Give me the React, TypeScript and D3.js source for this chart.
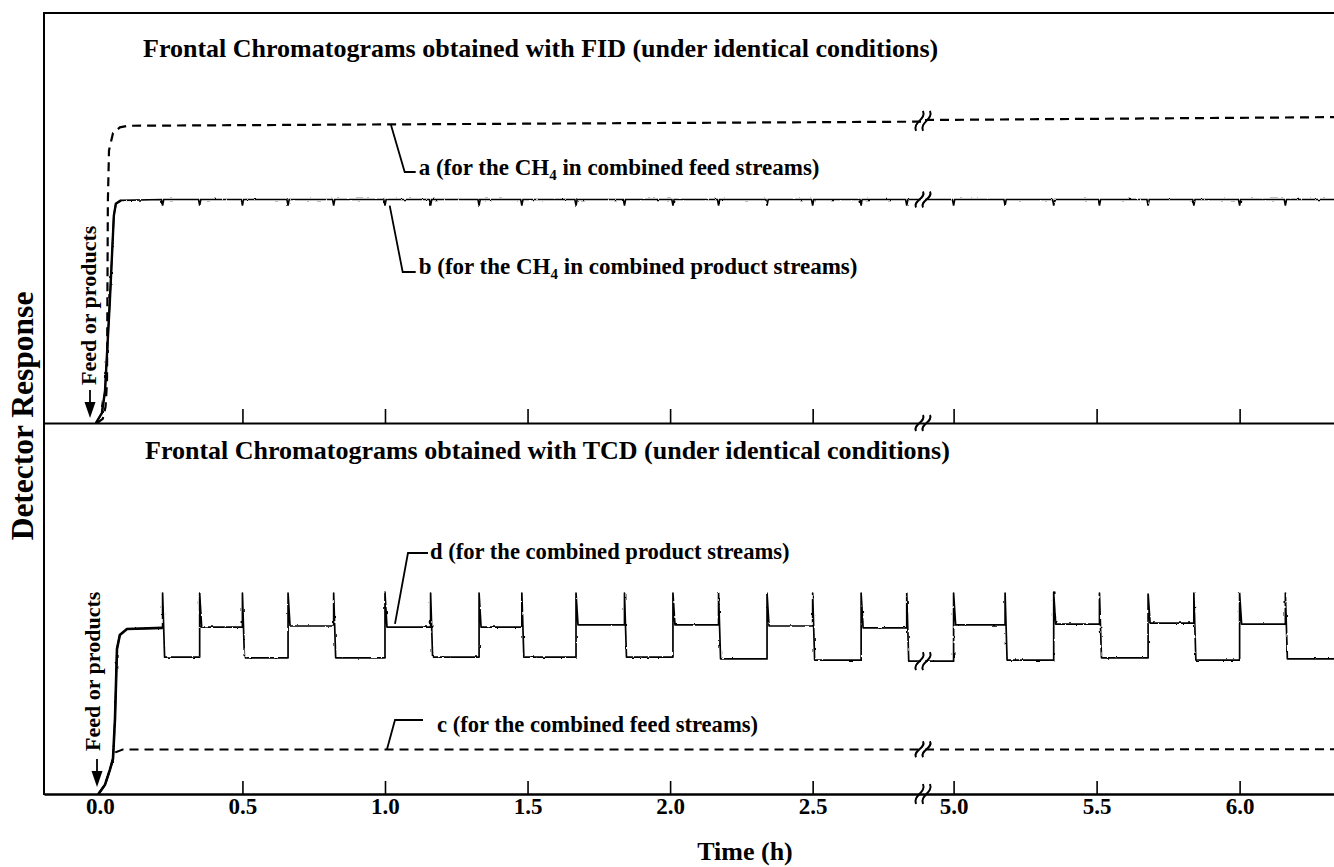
import * as d3 from 'd3';
import { useEffect, useRef } from 'react';

type P = [number, number];

const W = 1334;
const H = 867;
const FONT = '"Liberation Serif", "Times New Roman", serif';

// time axis (h), broken between 2.88 and 4.9
const labelTimes = [0, 0.5, 1.0, 1.5, 2.0, 2.5, 5.0, 5.5, 6.0];
const tickLabels = ['0.0', '0.5', '1.0', '1.5', '2.0', '2.5', '5.0', '5.5', '6.0'];
const tickTimes = [0.5, 1.0, 1.5, 2.0, 2.5, 5.0, 5.5, 6.0];
const breakTimes = [2.88, 4.9];
const endTime = 6.33;

// valve switching times (h) -> small dips in b, steps in d
const switchTimes = [0.22, 0.35, 0.50, 0.66, 0.82, 1.00, 1.16, 1.33, 1.48, 1.67, 1.84, 2.01, 2.17, 2.34, 2.50, 2.67, 2.83, 5.00, 5.18, 5.35, 5.51, 5.68, 5.84, 6.00, 6.16];

// FID panel (response, arbitrary units 0-100)
const aRise: P[] = [[-0.01, 0], [0.01, 1], [0.02, 4], [0.025, 10], [0.028, 54], [0.032, 66.5], [0.046, 70.7], [0.07, 72.1], [0.098, 72.5]];
const aPlateau: P[] = [[2.88, 73.5], [4.9, 73.9], [6.33, 74.6]];
const bRise: P[] = [[-0.014, 0], [0.007, 2.4], [0.018, 7.8], [0.035, 29.8], [0.049, 50.6], [0.056, 53.5], [0.074, 54.3]];
const bLevel = 54.5;
const bDip = 53.0;

// TCD panel
const dRise: P[] = [[-0.005, 0], [0.018, 2.5], [0.035, 6.5], [0.046, 9.5], [0.053, 20.3], [0.06, 39.2], [0.07, 43.0], [0.095, 44.6]];
const dStart = 44.9;
const dLevels = [37.0, 45.1, 36.8, 45.4, 36.8, 45.1, 37.0, 45.1, 37.0, 45.7, 37.0, 45.7, 36.5, 45.4, 36.2, 44.9, 35.9, 45.7, 36.2, 45.9, 36.8, 46.2, 36.2, 45.9, 36.5];
const dSpike = 54.3;
const cRise: P[] = [[-0.005, 0], [0.018, 2.5], [0.035, 6.5], [0.046, 9.5], [0.055, 11.3], [0.08, 12.0]];
const cLevel = 12.1;

// cut a trace at the axis break
function withBreak(points: P[]): (P | null)[] {
  const out: (P | null)[] = [];
  points.forEach((p, i) => {
    const prev = points[i - 1];
    if (prev && prev[0] <= breakTimes[0] && p[0] >= breakTimes[1]) {
      if (prev[0] < breakTimes[0]) out.push([breakTimes[0], prev[1]]);
      out.push(null);
      if (p[0] > breakTimes[1]) out.push([breakTimes[1], prev[1]]);
    }
    out.push(p);
  });
  return out;
}

function App() {
  const ref = useRef<SVGSVGElement>(null);

  useEffect(() => {
    const svg = d3.select(ref.current);
    svg.selectAll('*').remove();

    const x = d3.scaleLinear().domain([-0.196, breakTimes[0], breakTimes[1], endTime]).range([44, 921, 925, 1334]);
    const yTop = d3.scaleLinear().domain([0, 100]).range([423, 13]);
    const yBot = d3.scaleLinear().domain([0, 100]).range([794, 424]);
    const xBreak = (x(breakTimes[0]) + x(breakTimes[1])) / 2;

    // slight recorder-pen noise on the solid traces
    const filt = svg.append('defs').append('filter').attr('id', 'wiggle')
      .attr('filterUnits', 'userSpaceOnUse').attr('x', 0).attr('y', 0).attr('width', W).attr('height', H);
    filt.append('feTurbulence').attr('type', 'fractalNoise').attr('baseFrequency', '0.28 0.2')
      .attr('numOctaves', 1).attr('seed', 4).attr('result', 'noise');
    filt.append('feDisplacementMap').attr('in', 'SourceGraphic').attr('in2', 'noise')
      .attr('scale', 2.6).attr('xChannelSelector', 'R').attr('yChannelSelector', 'G');

    // frame
    svg.append('line').attr('x1', 44).attr('x2', W).attr('y1', 13).attr('y2', 13).attr('stroke', '#000').attr('stroke-width', 2);
    svg.append('line').attr('x1', 44).attr('x2', 44).attr('y1', 12).attr('y2', 795).attr('stroke', '#000').attr('stroke-width', 2);

    // axes
    const topAxis = svg.append('g').attr('transform', `translate(0,${yTop(0)})`)
      .call(d3.axisBottom(x).tickValues(tickTimes).tickSizeInner(-14).tickSizeOuter(0).tickFormat(() => ''));
    topAxis.select('.domain').attr('stroke-width', 2.2);
    topAxis.selectAll('.tick line').attr('stroke-width', 1.6);

    const botAxis = svg.append('g').attr('transform', `translate(0,${yBot(0)})`)
      .call(d3.axisBottom(x).tickValues(labelTimes).tickSizeInner(-13).tickSizeOuter(0).tickPadding(4)
        .tickFormat((_d, i) => tickLabels[i]));
    botAxis.select('.domain').attr('stroke-width', 2.6);
    botAxis.selectAll('.tick line').attr('stroke-width', 1.6);
    botAxis.selectAll('.tick').filter((d: any) => d === 0).select('line').remove();
    botAxis.selectAll('text').attr('font-family', FONT).attr('font-weight', 'bold').attr('font-size', 23).attr('fill', '#000');

    const line = (y: d3.ScaleLinear<number, number>) => d3.line<P | null>()
      .defined((d) => d !== null)
      .x((d) => x((d as P)[0]))
      .y((d) => y((d as P)[1]));

    // curve a (dashed)
    svg.append('path').attr('d', line(yTop)(withBreak([...aRise, ...aPlateau])))
      .attr('fill', 'none').attr('stroke', '#000').attr('stroke-width', 2.2).attr('stroke-dasharray', '9,6');

    // curve b with dips at each switch
    const bPts: P[] = [...bRise];
    switchTimes.forEach((t) => { bPts.push([t - 0.004, bLevel], [t, bDip], [t + 0.004, bLevel]); });
    bPts.push([endTime, bLevel]);
    svg.append('path').attr('d', line(yTop)(withBreak(bPts))).attr('filter', 'url(#wiggle)')
      .attr('fill', 'none').attr('stroke', '#000').attr('stroke-width', 1.6);
    svg.append('path').attr('d', line(yTop)(bRise))
      .attr('fill', 'none').attr('stroke', '#000').attr('stroke-width', 2.4);

    // curve c (dashed)
    svg.append('path').attr('d', line(yBot)(withBreak([...cRise, [endTime, cLevel]])))
      .attr('fill', 'none').attr('stroke', '#000').attr('stroke-width', 2).attr('stroke-dasharray', '9,6');

    // curve d, square wave with a spike at every switch
    const dPts: P[] = [...dRise];
    let level = dStart;
    switchTimes.forEach((t, i) => {
      dPts.push([t, level], [t, dSpike], [t + 0.007, dLevels[i]]);
      level = dLevels[i];
    });
    dPts.push([endTime, level]);
    svg.append('path').attr('d', line(yBot)(withBreak(dPts))).attr('filter', 'url(#wiggle)')
      .attr('fill', 'none').attr('stroke', '#000').attr('stroke-width', 1.7).attr('stroke-linejoin', 'round');
    svg.append('path').attr('d', line(yBot)([...dRise, [switchTimes[0], dStart]]))
      .attr('fill', 'none').attr('stroke', '#000').attr('stroke-width', 2.6);

    // break marks
    const breakMark = (cy: number, h: number) => {
      [-3.5, 3.5].forEach((o) => {
        const cx = xBreak + o;
        svg.append('path')
          .attr('d', `M${cx - 3.5},${cy + h} C${cx - 7},${cy + 1} ${cx + 7},${cy - 1} ${cx + 3.5},${cy - h}`)
          .attr('fill', 'none').attr('stroke', '#000').attr('stroke-width', 2);
      });
    };
    breakMark(yTop(73.7), 10);
    breakMark(yTop(bLevel), 8);
    breakMark(yTop(0), 8);
    breakMark(yBot(35.9), 9);
    breakMark(yBot(cLevel), 8);
    breakMark(yBot(0), 10);

    const txt = (xx: number, yy: number, size: number) => svg.append('text')
      .attr('x', xx).attr('y', yy).attr('font-family', FONT).attr('font-weight', 'bold')
      .attr('font-size', size).attr('fill', '#000');

    // titles
    txt(143, 57, 26).text('Frontal Chromatograms obtained with FID (under identical conditions)');
    txt(145, 459, 26).text('Frontal Chromatograms obtained with TCD (under identical conditions)');

    // curve labels with leaders
    const leader = (pts: P[]) => svg.append('path').attr('d', d3.line()(pts))
      .attr('fill', 'none').attr('stroke', '#000').attr('stroke-width', 1.8);
    const ax = x(1.02);
    leader([[ax, yTop(72.9)], [ax + 14, 172], [ax + 25, 172]]);
    const la = txt(ax + 28, 175, 23);
    la.append('tspan').text('a (for the CH');
    la.append('tspan').attr('font-size', 15).attr('dy', 5).text('4');
    la.append('tspan').attr('dy', -5).text(' in combined feed streams)');

    leader([[ax - 1, yTop(bDip)], [ax + 12, 272], [ax + 25, 272]]);
    const lb = txt(ax + 28, 274, 23);
    lb.append('tspan').text('b (for the CH');
    lb.append('tspan').attr('font-size', 15).attr('dy', 5).text('4');
    lb.append('tspan').attr('dy', -5).text(' in combined product streams)');

    const dx = x(1.035);
    leader([[dx, yBot(46)], [dx + 13, 553], [dx + 33, 553]]);
    txt(dx + 35, 559, 22.6).text('d (for the combined product streams)');

    const cx0 = x(1.007);
    leader([[cx0, yBot(cLevel)], [cx0 + 8, 720], [cx0 + 36, 720]]);
    txt(cx0 + 50, 732, 22.6).text('c (for the combined feed streams)');

    // "Feed or products" markers with arrows
    const feed = (tx: number, ty: number, arrowX: number, arrowTop: number) => {
      svg.append('text').attr('transform', `translate(${tx},${ty}) rotate(-90)`)
        .attr('font-family', FONT).attr('font-weight', 'bold').attr('font-size', 22).text('Feed or products');
      svg.append('line').attr('x1', arrowX).attr('x2', arrowX).attr('y1', arrowTop).attr('y2', arrowTop + 14)
        .attr('stroke', '#000').attr('stroke-width', 1.8);
      svg.append('path').attr('d', `M${arrowX - 5.5},${arrowTop + 12} L${arrowX + 5.5},${arrowTop + 12} L${arrowX},${arrowTop + 28} Z`)
        .attr('fill', '#000');
    };
    feed(96, 385, 90, 390);
    feed(100, 751, 97, 759);

    // axis titles
    svg.append('text').attr('transform', 'translate(33,416) rotate(-90)').attr('text-anchor', 'middle')
      .attr('font-family', FONT).attr('font-weight', 'bold').attr('font-size', 31.5).text('Detector Response');
    txt(745, 860, 26).attr('text-anchor', 'middle').text('Time (h)');
  }, []);

  return (
    <svg ref={ref} width={W} height={H}
      style={{ position: 'absolute', left: 0, top: 0, background: '#fff', display: 'block' }} />
  );
}

export default App;
